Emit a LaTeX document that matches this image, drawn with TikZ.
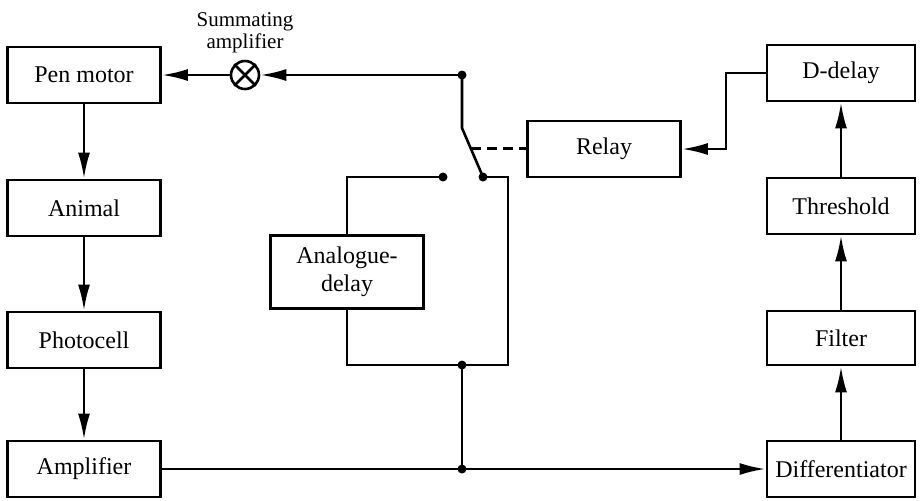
\documentclass[tikz,border=0pt]{standalone}
\usepackage{fontspec}
\setmainfont{Liberation Serif}
\usetikzlibrary{arrows.meta,calc,positioning}

\tikzset{
  blk/.style={draw,line width=1.4pt,minimum width=76.5pt,minimum height=28pt,font=\fontsize{12}{14}\selectfont,align=center},
  wire/.style={line width=1.3pt},
  arr/.style={wire,-{Latex[length=13pt,width=6pt]}},
  dot/.style={circle,fill,inner sep=0pt,minimum size=4.5pt}
}

\begin{document}
\begin{tikzpicture}[x=0.5pt,y=-0.5pt]
\useasboundingbox (0,0) rectangle (921,500);
\node[blk] (pen) at (84,75) {Pen motor};
\node[blk] (animal) at (84,208) {Animal};
\node[blk] (photo) at (84,340) {Photocell};
\node[blk] (amp) at (84,469) {Amplifier};
\node[blk] (relay) at (604,149) {Relay};
\node[blk,minimum width=74pt] (ddelay) at (841,73) {D-delay};
\node[blk,minimum width=74pt] (thresh) at (841,206) {Threshold};
\node[blk,minimum width=74pt,minimum height=27pt] (filter) at (841,338) {Filter};
\node[blk,minimum width=74pt] (diff) at (841,469) {Differentiator};
\node[blk,minimum height=36.5pt] (adelay) at (347,272) {Analogue-\\delay};
\node[circle,draw,wire,minimum size=14pt,inner sep=0pt] (sum) at (245,75) {};
\node[font=\fontsize{10.5}{11}\selectfont,align=center,above=0pt of sum] (sumlbl) {Summating\\amplifier};
\draw[wire] (sum.north east) -- (sum.south west) (sum.north west) -- (sum.south east);
\coordinate (jtop) at (462,75);
\coordinate (pivot) at (462,128);
\coordinate (cmov) at (483,177);
\coordinate (cfix) at (443,177);
\coordinate (rc) at (508,365);
\coordinate (jmid) at (462,365);
\coordinate (jbot) at (462,469);
\coordinate (bend) at (726,149);
\coordinate (link) at ($(pivot)!0.42!(cmov)$);
\draw[arr] (pen) -- (animal);
\draw[arr] (animal) -- (photo);
\draw[arr] (photo) -- (amp);
\draw[arr] (amp) -- (diff);
\draw[arr] (diff) -- (filter);
\draw[arr] (filter) -- (thresh);
\draw[arr] (thresh) -- (ddelay);
\draw[arr] (ddelay.west) -| (bend) -- (relay.east);
\draw[arr] (jtop) -- (sum);
\draw[arr] (sum) -- (pen);
\draw[wire] (jtop) -- (pivot) -- (cmov);
\draw[wire,dashed,dash pattern=on 5pt off 3pt] (link) -- (link -| relay.west);
\draw[wire] (cfix) -| (adelay.north);
\draw[wire] (cmov) -| (rc) -- (adelay.south |- rc) -- (adelay.south);
\draw[wire] (jmid) -- (jbot);
\foreach \p in {jtop,cfix,cmov,jmid,jbot}
  \node[dot] at (\p) {};
\end{tikzpicture}
\end{document}
